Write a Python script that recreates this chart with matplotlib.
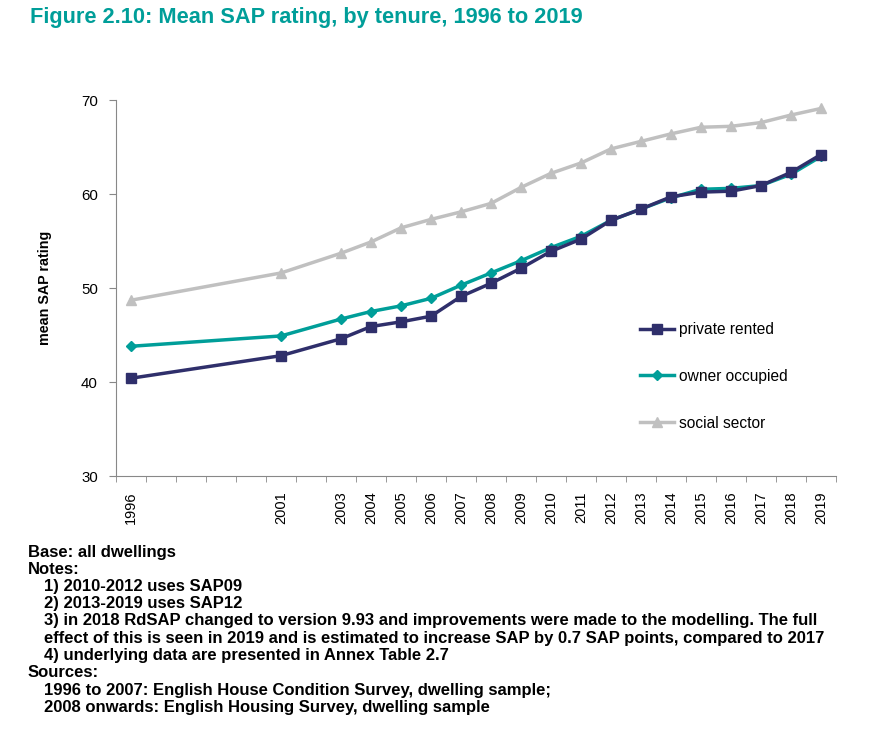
import matplotlib
matplotlib.use("Agg")
import matplotlib.pyplot as plt
import numpy as np

plt.rcParams['font.family'] = ['Liberation Sans', 'DejaVu Sans']

years = [1996, 2001, 2003, 2004, 2005, 2006, 2007, 2008, 2009, 2010,
         2011, 2012, 2013, 2014, 2015, 2016, 2017, 2018, 2019]
private_rented = [40.4, 42.8, 44.6, 45.9, 46.4, 47.0, 49.1, 50.5, 52.1, 53.9,
                  55.2, 57.2, 58.4, 59.7, 60.2, 60.3, 60.9, 62.3, 64.2]
owner_occupied = [43.8, 44.9, 46.7, 47.5, 48.1, 48.9, 50.3, 51.6, 52.9, 54.3,
                  55.5, 57.2, 58.4, 59.6, 60.5, 60.6, 60.9, 62.1, 64.0]
social_sector = [48.7, 51.6, 53.7, 54.9, 56.4, 57.3, 58.1, 59.0, 60.7, 62.2,
                 63.3, 64.8, 65.6, 66.4, 67.1, 67.2, 67.6, 68.4, 69.1]

notes = [
    ("Base: all dwellings", 0),
    ("Notes:", 0),
    ("1) 2010-2012 uses SAP09", 1),
    ("2) 2013-2019 uses SAP12", 1),
    ("3) in 2018 RdSAP changed to version 9.93 and improvements were made to the modelling. The full", 1),
    ("effect of this is seen in 2019 and is estimated to increase SAP by 0.7 SAP points, compared to 2017", 1),
    ("4) underlying data are presented in Annex Table 2.7", 1),
    ("Sources:", 0),
    ("1996 to 2007: English House Condition Survey, dwelling sample;", 1),
    ("2008 onwards: English Housing Survey, dwelling sample", 1),
]

navy = '#2f2f6b'
teal = '#009e99'
grey = '#c0c0c0'

fig = plt.figure(figsize=(8.85, 7.5), dpi=100)
ax = fig.add_axes([116/885, 1-476/750, 720/885, 376/750])

ax.plot(years, social_sector, color=grey, lw=2.5, marker='^', ms=7, label='social sector')
ax.plot(years, owner_occupied, color=teal, lw=2.5, marker='D', ms=5, label='owner occupied')
ax.plot(years, private_rented, color=navy, lw=2.5, marker='s', ms=7.5, label='private rented')

ax.set_xlim(1995.5, 2019.5)
ax.set_ylim(30, 70)
ax.set_yticks([30, 40, 50, 60, 70])
ax.tick_params(axis='y', labelsize=10.8, length=5, color='#888888', pad=8)
ax.set_xticks(years)
ax.set_xticklabels([str(y) for y in years], rotation=90)
ax.set_xticks(np.arange(1995.5, 2020, 1), minor=True)
ax.tick_params(axis='x', which='major', length=0, labelsize=10.5, pad=11)
ax.tick_params(axis='x', which='minor', length=4, color='#888888')

for s in ['top', 'right']:
    ax.spines[s].set_visible(False)
for s in ['left', 'bottom']:
    ax.spines[s].set_color('#888888')

handles, labels = ax.get_legend_handles_labels()
ax.legend(handles[::-1], labels[::-1], loc='upper left',
          bbox_to_anchor=(640/885, 1-322/750), bbox_transform=fig.transFigure,
          frameon=False, fontsize=11.2, labelspacing=2.05, handlelength=2.2,
          handletextpad=0.3, borderpad=0, borderaxespad=0)

fig.text(45/885, 1-288/750, 'mean SAP rating', rotation=90, fontsize=10.3,
         fontweight='bold', ha='center', va='center')

fig.text(30/885, 1-18/750, 'Figure 2.10: Mean SAP rating, by tenure, 1996 to 2019',
         fontsize=15.7, fontweight='bold', color=teal, ha='left', va='center')

for i, (line, indent) in enumerate(notes):
    fig.text((28 + 16*indent)/885, 1-(552 + 17.25*i)/750, line,
             fontsize=12, fontweight='bold', ha='left', va='center')

fig.savefig('out.png', dpi=100)
